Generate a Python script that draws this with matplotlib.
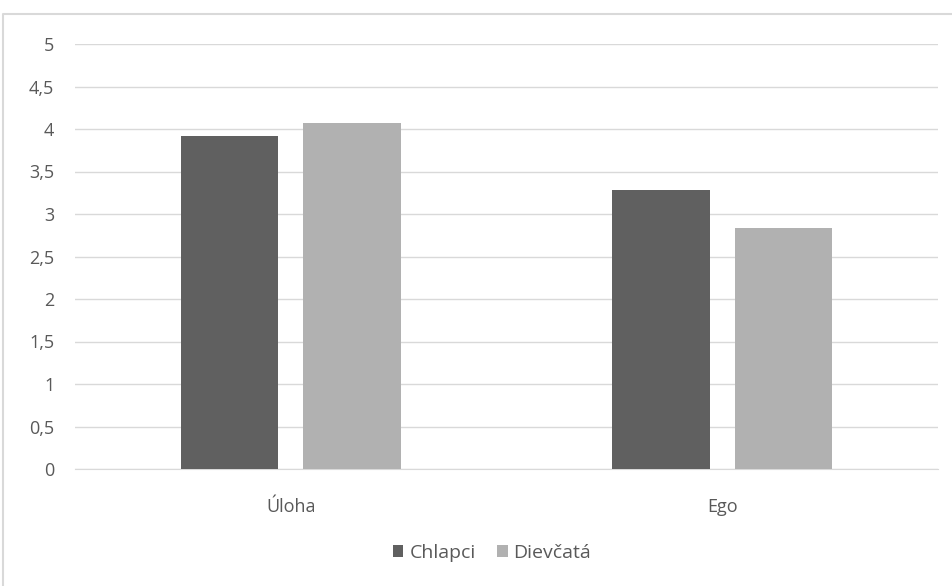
import matplotlib.pyplot as plt
from matplotlib.lines import Line2D
from matplotlib.ticker import FuncFormatter
import numpy as np

categories = ["Úloha", "Ego"]
chlapci = [3.92, 3.28]
dievcata = [4.07, 2.84]
series_names = ["Chlapci", "Dievčatá"]

dark = "#606060"
light = "#b1b1b1"
grid = "#d9d9d9"
text = "#595959"

plt.rcParams['font.family'] = ['Open Sans', 'DejaVu Sans']

fig = plt.figure(figsize=(9.53, 5.86), dpi=100)
# chart frame: only top and left edges fall inside the image
fig.lines.append(Line2D([3.5 / 953, 3.5 / 953, 1], [0, 1 - 13.5 / 586, 1 - 13.5 / 586],
                        transform=fig.transFigure, color=grid, lw=1.5))

ax = fig.add_axes([75 / 953, 1 - 469 / 586, 863 / 953, 425 / 586])
x = np.arange(len(categories))
w = 0.225
ax.bar(x - 0.142, chlapci, w, color=dark, label=series_names[0], zorder=3)
ax.bar(x + 0.142, dievcata, w, color=light, label=series_names[1], zorder=3)

ax.set_xlim(-0.5, 1.5)
ax.set_ylim(0, 5)
ax.set_yticks(np.arange(0, 5.01, 0.5))
ax.yaxis.set_major_formatter(FuncFormatter(lambda v, p: f"{v:g}".replace(".", ",")))
ax.set_xticks(x)
ax.set_xticklabels(categories)
ax.grid(axis="y", color=grid, lw=1, zorder=0)
for s in ["top", "right", "left"]:
    ax.spines[s].set_visible(False)
ax.spines["bottom"].set_color(grid)
ax.tick_params(axis="both", length=0, colors=text, labelsize=13)
ax.tick_params(axis="y", pad=15)
ax.tick_params(axis="x", pad=21)

fig.legend(loc="center", bbox_to_anchor=(492 / 953, 1 - 553 / 586), ncol=2,
           frameon=False, fontsize=14, labelcolor=text, handlelength=0.55,
           handleheight=0.55, handletextpad=0.3, columnspacing=1.1)

fig.savefig("out.png", dpi=100)
